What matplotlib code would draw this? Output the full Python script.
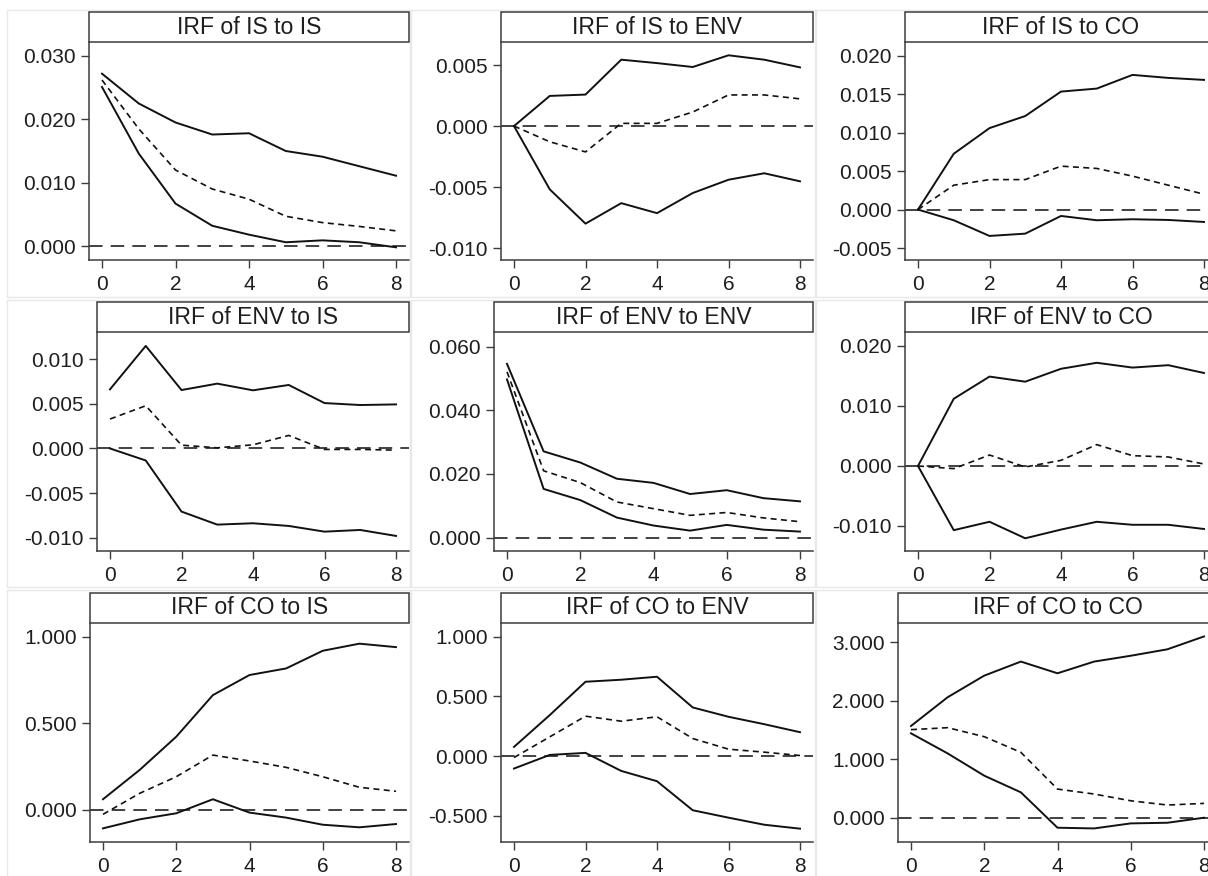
import matplotlib
matplotlib.use("Agg")
import matplotlib.pyplot as plt
from matplotlib.patches import Rectangle
from matplotlib.ticker import FixedLocator, FuncFormatter

plt.rcParams['font.family'] = ['Liberation Sans', 'DejaVu Sans']

# ---------------- data ----------------
steps = [0, 1, 2, 3, 4, 5, 6, 7, 8]

titles = ["IRF of IS to IS", "IRF of IS to ENV", "IRF of IS to CO",
          "IRF of ENV to IS", "IRF of ENV to ENV", "IRF of ENV to CO",
          "IRF of CO to IS", "IRF of CO to ENV", "IRF of CO to CO"]

# IS to IS
is_is_hi = [0.0272, 0.0225, 0.0195, 0.0176, 0.0178, 0.0150, 0.0141, 0.0126, 0.0111]
is_is_irf = [0.0262, 0.0185, 0.0120, 0.0090, 0.0074, 0.0047, 0.0037, 0.0031, 0.0024]
is_is_lo = [0.0251, 0.0146, 0.0067, 0.0032, 0.0018, 0.0006, 0.0009, 0.0006, -0.0002]
# IS to ENV
is_env_hi = [0.0, 0.00247, 0.00258, 0.00544, 0.00516, 0.00484, 0.00580, 0.00544, 0.00481]
is_env_irf = [0.0, -0.00129, -0.00212, 0.00022, 0.00022, 0.00115, 0.00255, 0.00255, 0.00223]
is_env_lo = [0.0, -0.00519, -0.00800, -0.00632, -0.00714, -0.00549, -0.00440, -0.00387, -0.00453]
# IS to CO
is_co_hi = [0.0, 0.00726, 0.01060, 0.01217, 0.01535, 0.01574, 0.01752, 0.01713, 0.01687]
is_co_irf = [0.0, 0.00317, 0.00390, 0.00390, 0.00565, 0.00535, 0.00435, 0.00317, 0.00200]
is_co_lo = [0.0, -0.00139, -0.00343, -0.00313, -0.00083, -0.00139, -0.00126, -0.00135, -0.00161]
# ENV to IS
env_is_hi = [0.00663, 0.01150, 0.00655, 0.00727, 0.00652, 0.00712, 0.00509, 0.00487, 0.00494]
env_is_irf = [0.00330, 0.00479, 0.00037, 0.00007, 0.00041, 0.00146, -0.00011, -0.00011, -0.00019]
env_is_lo = [0.0, -0.00135, -0.00708, -0.00854, -0.00839, -0.00869, -0.00933, -0.00914, -0.00981]
# ENV to ENV
env_env_hi = [0.0546, 0.0271, 0.0236, 0.0185, 0.0172, 0.0137, 0.0149, 0.0124, 0.0114]
env_env_irf = [0.0521, 0.0210, 0.0173, 0.0112, 0.0091, 0.0070, 0.0079, 0.0062, 0.0050]
env_env_lo = [0.0497, 0.0153, 0.0118, 0.0063, 0.0038, 0.0022, 0.0040, 0.0025, 0.0019]
# ENV to CO
env_co_hi = [0.0, 0.0112, 0.0149, 0.01405, 0.0162, 0.0172, 0.0164, 0.0168, 0.0155]
env_co_irf = [0.0, -0.00044, 0.00183, -0.00017, 0.00094, 0.00356, 0.00172, 0.00150, 0.00033]
env_co_lo = [0.0, -0.0107, -0.0093, -0.01205, -0.0106, -0.0093, -0.0098, -0.0098, -0.0105]
# CO to IS
co_is_hi = [0.062, 0.231, 0.423, 0.663, 0.779, 0.817, 0.919, 0.960, 0.940]
co_is_irf = [-0.025, 0.096, 0.192, 0.317, 0.283, 0.246, 0.192, 0.131, 0.108]
co_is_lo = [-0.106, -0.054, -0.019, 0.062, -0.015, -0.044, -0.085, -0.100, -0.081]
# CO to ENV
co_env_hi = [0.078, 0.344, 0.623, 0.640, 0.665, 0.408, 0.330, 0.268, 0.201]
co_env_irf = [-0.011, 0.162, 0.335, 0.293, 0.330, 0.148, 0.059, 0.034, 0.006]
co_env_lo = [-0.103, 0.011, 0.028, -0.123, -0.209, -0.452, -0.514, -0.573, -0.606]
# CO to CO
co_co_hi = [1.569, 2.060, 2.430, 2.670, 2.470, 2.670, 2.770, 2.880, 3.100]
co_co_irf = [1.506, 1.540, 1.386, 1.118, 0.490, 0.405, 0.290, 0.217, 0.245]
co_co_lo = [1.443, 1.100, 0.719, 0.434, -0.171, -0.183, -0.097, -0.086, 0.000]

yticks_list = [
    [0.0, 0.01, 0.02, 0.03],
    [-0.01, -0.005, 0.0, 0.005],
    [-0.005, 0.0, 0.005, 0.01, 0.015, 0.02],
    [-0.01, -0.005, 0.0, 0.005, 0.01],
    [0.0, 0.02, 0.04, 0.06],
    [-0.01, 0.0, 0.01, 0.02],
    [0.0, 0.5, 1.0],
    [-0.5, 0.0, 0.5, 1.0],
    [0.0, 1.0, 2.0, 3.0],
]
xticks = [0, 2, 4, 6, 8]

his = [is_is_hi, is_env_hi, is_co_hi, env_is_hi, env_env_hi, env_co_hi, co_is_hi, co_env_hi, co_co_hi]
irfs = [is_is_irf, is_env_irf, is_co_irf, env_is_irf, env_env_irf, env_co_irf, co_is_irf, co_env_irf, co_co_irf]
los = [is_is_lo, is_env_lo, is_co_lo, env_is_lo, env_env_lo, env_co_lo, co_is_lo, co_env_lo, co_co_lo]

# ---------------- layout (pixels) ----------------
W, H = 1208, 876
fig = plt.figure(figsize=(W / 100, H / 100), dpi=100)

row_top = [42, 332, 622.7]
row_bot = [260, 551, 841.7]
lefts = [[89, 501, 905], [97, 494, 905], [90, 501, 898]]
rights = [409, 813, 1217]
ylims = [(-0.0022, 0.0322), (-0.01098, 0.00689), (-0.00656, 0.0218),
         (-0.0115, 0.01306), (-0.0042, 0.0646), (-0.01417, 0.02233),
         (-0.183, 1.081), (-0.715, 1.117), (-0.41, 3.335)]

# faint panel borders
panel_x = [(7, 409.5), (411, 814.5), (816, 1230)]
panel_y = [(10, 297), (300, 587), (590, 890)]
for (py0, py1) in panel_y:
    for (px0, px1) in panel_x:
        fig.patches.append(Rectangle((px0 / W, 1 - py1 / H), (px1 - px0) / W, (py1 - py0) / H,
                                     transform=fig.transFigure, fill=False,
                                     edgecolor='#e8e8e8', lw=1.0, zorder=0))

spine_c = '#3c3c3c'
for i in range(9):
    r, c = divmod(i, 3)
    L, R = lefts[r][c], rights[c]
    T, B = row_top[r], row_bot[r]
    ax = fig.add_axes([L / W, 1 - B / H, (R - L) / W, (B - T) / H])
    ppu = (R - L - 26) / 8.0
    d = 13 / ppu
    ax.set_xlim(-d, 8 + d)
    ax.set_ylim(*ylims[i])
    ax.axhline(0, color='#333333', lw=1.3, dashes=(7.5, 4.5), zorder=1)
    ax.plot(steps, his[i], color='#111111', lw=1.4, zorder=3)
    ax.plot(steps, los[i], color='#111111', lw=1.4, zorder=3)
    ax.plot(steps, irfs[i], color='#111111', lw=1.2, dashes=(3.6, 2.6), zorder=3)
    for s in ['top', 'right']:
        ax.spines[s].set_visible(False)
    for s in ['left', 'bottom']:
        ax.spines[s].set_color(spine_c)
        ax.spines[s].set_linewidth(1.1)
    ax.yaxis.set_major_locator(FixedLocator(yticks_list[i]))
    ax.yaxis.set_major_formatter(FuncFormatter(lambda v, p: "{:.3f}".format(v)))
    ax.xaxis.set_major_locator(FixedLocator(xticks))
    ax.tick_params(axis='both', length=5.5, width=1.0, color=spine_c,
                   labelsize=15, labelcolor='#1e1e1e', pad=4)
    ax.tick_params(axis='x', pad=5.5)
    ax.patch.set_alpha(0)
    # title box
    tb_h = 30
    fig.patches.append(Rectangle((L / W, 1 - T / H), (R - L) / W, tb_h / H,
                                 transform=fig.transFigure, facecolor='white',
                                 edgecolor=spine_c, lw=1.1, zorder=2))
    fig.text(((L + R) / 2) / W, 1 - (T - tb_h / 2) / H, titles[i],
             ha='center', va='center', fontsize=16.6, color='#1e1e1e', zorder=3)

fig.savefig("out.png", dpi=100)
